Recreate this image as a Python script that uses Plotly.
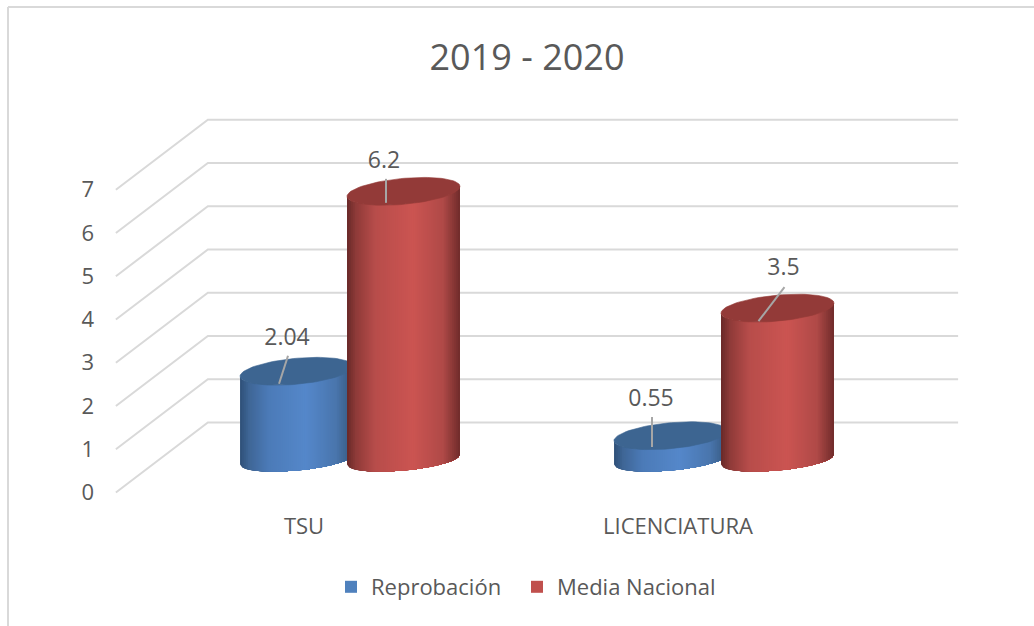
"""2019 - 2020: reprobacion vs media nacional, drawn as Excel-style 3D cylinders."""
import numpy as np
import plotly.graph_objects as go

CATEGORIES = ["TSU", "LICENCIATURA"]
REPROBACION = [2.04, 0.55]
MEDIA_NACIONAL = [6.2, 3.5]
VALUE_TICKS = [0, 1, 2, 3, 4, 5, 6, 7]

WIDTH, HEIGHT = 1034, 626
MARGIN = dict(l=100, r=34, t=100, b=121)
PX_PER_CAT = 374
PX_PER_UNIT = 43.25

# oblique projection, in axis units
BAR_OFFSET = 0.143
BAR_RX = 0.151
CAP_SKEW = 5 / PX_PER_UNIT
CAP_B = 13 / PX_PER_UNIT
BASE_B = 11 / PX_PER_UNIT
BACK_X, RIGHT_X, FRONT_X = -0.380, 1.626, -0.626
BACK_Y, FRONT_Y = 0.855, -0.763
LABEL_SHIFT = -0.123
N_STRIPS = 56

GRID_COLOR = "#d9d9d9"
TEXT_COLOR = "#595959"
FONT = "Open Sans"

SERIES = [
    dict(name="Reprobación", values=REPROBACION, side=-1, legend="#4f81bd", cap="#3d6591",
         stops=["#2f5078", "#3f6696", "#4c7bb8", "#5588cb", "#4a76ad", "#36587f"],
         # (label dx, dy), (leader start), (leader end) in pixels from the cap centre
         labels=[((-9.5, -32.5), (-8.5, -15.5), (-17.5, 12.5)),
                 ((-19.5, -35.7), (-18.5, -18.7), (-18.5, 11.3))]),
    dict(name="Media Nacional", values=MEDIA_NACIONAL, side=1, legend="#c0504d", cap="#933a38",
         stops=["#692a29", "#8f3b39", "#b84d4b", "#cc5552", "#b04a48", "#702c2b"],
         labels=[((-19.5, -29.5), (-17.5, -12.5), (-17.5, 11.5)),
                 ((6, -39), (7, -21), (-19, 13))]),
]
STOP_POS = [0, 0.08, 0.25, 0.58, 0.85, 1]


def shade(stops, frac):
    rgb = np.array([[int(c[i:i + 2], 16) for i in (1, 3, 5)] for c in stops])
    vals = [int(np.interp(frac, STOP_POS, rgb[:, j])) for j in range(3)]
    return f"rgb({vals[0]},{vals[1]},{vals[2]})"


def front_edge(u, y, b):
    return y + CAP_SKEW * u - b * np.sqrt(np.clip(1 - u * u, 0, 1))


def add_cylinder(fig, cx, value, series):
    edges = np.linspace(-1, 1, N_STRIPS + 1)
    # paint left to right, each piece covering all that is left, so no seams show between shades
    for i, u0 in enumerate(edges[:-1]):
        rest = edges[i:]
        xs = np.concatenate([cx + BAR_RX * rest, cx + BAR_RX * rest[::-1]])
        ys = np.concatenate([front_edge(rest, value, CAP_B), front_edge(rest[::-1], 0, BASE_B)])
        color = shade(series["stops"], (u0 + 1 + 1 / N_STRIPS) / 2)
        fig.add_trace(go.Scatter(x=xs, y=ys, mode="lines", fill="toself", fillcolor=color,
                                 line=dict(width=0), showlegend=False, hoverinfo="skip"))
    t = np.linspace(0, 2 * np.pi, 90)
    fig.add_trace(go.Scatter(
        x=cx + BAR_RX * np.cos(t),
        y=value + CAP_SKEW * np.cos(t) + CAP_B * np.sin(t),
        mode="lines", fill="toself", fillcolor=series["cap"],
        line=dict(color=series["cap"], width=0.6), showlegend=False, hoverinfo="skip",
    ))


def add_label(fig, cx, value, offsets):
    (lx, ly), (ax, ay), (bx, by) = offsets
    fig.add_trace(go.Scatter(
        x=[cx + ax / PX_PER_CAT, cx + bx / PX_PER_CAT],
        y=[value - ay / PX_PER_UNIT, value - by / PX_PER_UNIT],
        mode="lines", line=dict(color="#a6a6a6", width=2), showlegend=False, hoverinfo="skip",
    ))
    fig.add_trace(go.Scatter(
        x=[cx + lx / PX_PER_CAT], y=[value - ly / PX_PER_UNIT],
        mode="text", text=[f"{value:g}"], textposition="middle center",
        textfont=dict(family=FONT, size=23, color=TEXT_COLOR),
        showlegend=False, hoverinfo="skip",
    ))


def legend_box(left_px):
    return dict(orientation="h", x=left_px / WIDTH, y=1 - 587 / HEIGHT, xref="container", yref="container",
                xanchor="left", yanchor="middle", font=dict(family=FONT, size=22, color=TEXT_COLOR),
                itemsizing="constant", bgcolor="rgba(0,0,0,0)")


fig = go.Figure()

# back wall gridlines plus the diagonals running to the front axis
for tick in VALUE_TICKS:
    fig.add_trace(go.Scatter(
        x=[FRONT_X, BACK_X, RIGHT_X],
        y=[FRONT_Y + tick, BACK_Y + tick, BACK_Y + tick],
        mode="lines", line=dict(color=GRID_COLOR, width=2), showlegend=False, hoverinfo="skip",
    ))

for series in SERIES:
    for i, value in enumerate(series["values"]):
        add_cylinder(fig, i + series["side"] * BAR_OFFSET, value, series)

for series in SERIES:
    for i, value in enumerate(series["values"]):
        add_label(fig, i + series["side"] * BAR_OFFSET, value, series["labels"][i])

# one legend box per series, the gap between the entries is wider than plotly's own
for series, legend_id in zip(SERIES, ["legend", "legend2"]):
    fig.add_trace(go.Scatter(x=[None], y=[None], mode="markers", name=series["name"], legend=legend_id,
                             showlegend=True,
                             marker=dict(symbol="square", size=14, color=series["legend"])))

plot_w = WIDTH - MARGIN["l"] - MARGIN["r"]
plot_h = HEIGHT - MARGIN["t"] - MARGIN["b"]
frame = dict(type="line", xref="paper", yref="paper", line=dict(color=GRID_COLOR, width=2), layer="below")

fig.update_layout(
    width=WIDTH,
    height=HEIGHT,
    autosize=False,
    margin=MARGIN,
    paper_bgcolor="white",
    plot_bgcolor="rgba(0,0,0,0)",
    title=dict(text="2019 - 2020", x=527 / WIDTH, y=1 - 57 / HEIGHT, xanchor="center", yanchor="middle",
               font=dict(family=FONT, size=36, color=TEXT_COLOR)),
    xaxis=dict(
        range=[-250 / PX_PER_CAT, 650 / PX_PER_CAT],
        tickmode="array",
        tickvals=[i + LABEL_SHIFT for i in range(len(CATEGORIES))],
        ticktext=CATEGORIES,
        ticklabelstandoff=6,
        showgrid=False, zeroline=False, showline=False, ticks="",
        tickfont=dict(family=FONT, size=22, color=TEXT_COLOR),
    ),
    yaxis=dict(
        range=[-45.5 / PX_PER_UNIT, 359.5 / PX_PER_UNIT],
        tickmode="array",
        tickvals=[FRONT_Y + t for t in VALUE_TICKS],
        ticktext=[str(t) for t in VALUE_TICKS],
        ticklabelstandoff=5,
        showgrid=False, zeroline=False, showline=False, ticks="",
        tickfont=dict(family=FONT, size=22, color=TEXT_COLOR),
    ),
    legend=legend_box(331),
    legend2=legend_box(517),
    shapes=[
        dict(frame, x0=(8 - MARGIN["l"]) / plot_w, x1=(WIDTH - MARGIN["l"]) / plot_w,
             y0=(HEIGHT - MARGIN["b"] - 7) / plot_h, y1=(HEIGHT - MARGIN["b"] - 7) / plot_h),
        dict(frame, x0=(8 - MARGIN["l"]) / plot_w, x1=(8 - MARGIN["l"]) / plot_w,
             y0=(HEIGHT - MARGIN["b"] - 7) / plot_h, y1=-MARGIN["b"] / plot_h),
    ],
)

# the page's default body margin would push everything 8px off
fig.write_html("out.html", config={"displayModeBar": False},
               post_script="document.body.style.margin='0';document.body.style.overflow='hidden';")
